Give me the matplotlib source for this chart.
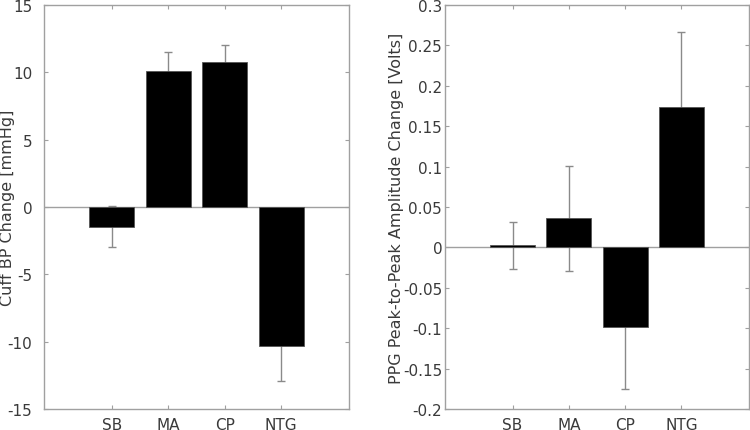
import numpy as np
import matplotlib
import matplotlib.pyplot as plt

matplotlib.use('Agg')
plt.rcParams['font.family'] = ['DejaVu Sans']

categories = ['SB', 'MA', 'CP', 'NTG']

bp_change = [-1.45, 10.1, 10.75, -10.35]
bp_err = [1.5, 1.4, 1.3, 2.6]

ppg_change = [0.0025, 0.036, -0.099, 0.174]
ppg_err = [0.0295, 0.065, 0.076, 0.093]

axis_gray = '#a0a0a0'
text_gray = '#3a3a3a'


def style_axes(ax, ylim, yticks, yticklabels, ylabel, label_x, ypad):
    x = np.arange(1, len(categories) + 1)
    ax.set_xlim(-0.2, 5.2)
    ax.set_ylim(*ylim)
    ax.set_xticks(x)
    ax.set_xticklabels(categories)
    ax.set_yticks(yticks)
    ax.set_yticklabels(yticklabels)
    ax.set_ylabel(ylabel, color=text_gray, fontsize=11.5)
    ax.yaxis.set_label_coords(label_x, 0.5)
    ax.tick_params(direction='in', top=True, right=True, length=3,
                   color=axis_gray, labelcolor=text_gray, labelsize=11)
    ax.tick_params(axis='x', pad=5.5)
    ax.tick_params(axis='y', pad=ypad)
    for s in ax.spines.values():
        s.set_color(axis_gray)
        s.set_linewidth(1.0)
    ax.axhline(0, color=axis_gray, linewidth=1.0, zorder=1)


def draw_bars(ax, values, errs):
    x = np.arange(1, len(categories) + 1)
    ax.bar(x, values, width=0.8, color='black', edgecolor='#555555', linewidth=0.6, zorder=2)
    # symmetric error bars drawn behind the bars
    ax.errorbar(x, values, yerr=errs, fmt='none', ecolor='#8a8a8a',
                elinewidth=1.0, capsize=3, capthick=1.0, zorder=1.5)


fig = plt.figure(figsize=(7.5, 4.31), dpi=100)

ax1 = fig.add_axes([0.0587, 0.0487, 0.4066, 0.9373])
draw_bars(ax1, bp_change, bp_err)
style_axes(ax1, (-15, 15), np.arange(-15, 16, 5),
           [str(v) for v in range(-15, 16, 5)], 'Cuff BP Change [mmHg]', -0.095, 8.5)

ax2 = fig.add_axes([0.5933, 0.0487, 0.4054, 0.9373])
draw_bars(ax2, ppg_change, ppg_err)
yt = np.round(np.arange(-0.2, 0.31, 0.05), 2)
ytl = ['%g' % (v + 0.0) if abs(v) > 1e-9 else '0' for v in yt]
style_axes(ax2, (-0.2, 0.3), yt, ytl, 'PPG Peak-to-Peak Amplitude Change [Volts]', -0.135, 2.0)

fig.savefig('out.png', dpi=100)
